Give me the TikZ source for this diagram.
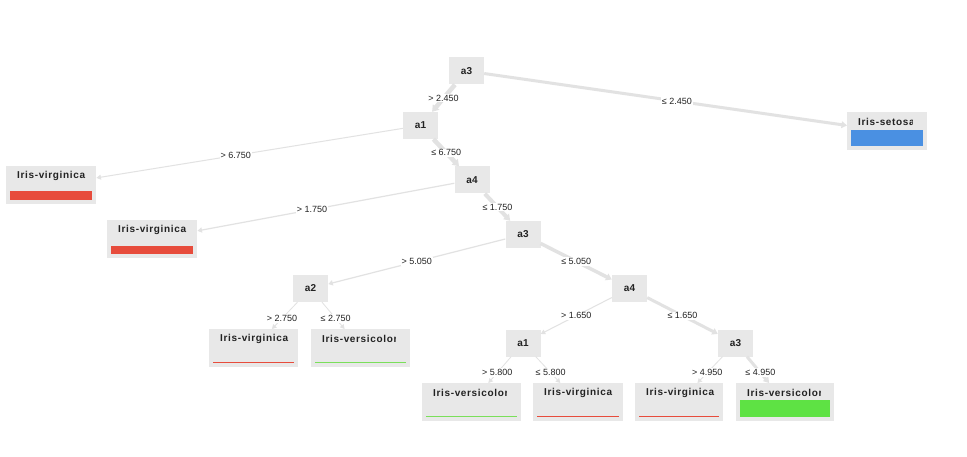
\documentclass[tikz,border=0pt]{standalone}
\usepackage{fontspec}
\setmainfont{Liberation Sans}
\newfontfamily\leaffont[LetterSpace=6.5]{Liberation Sans}
\usetikzlibrary{arrows.meta,calc}
\definecolor{boxgray}{HTML}{E8E8E8}
\definecolor{edgegray}{HTML}{E2E2E2}
\definecolor{vred}{HTML}{E74C3C}
\definecolor{sblue}{HTML}{4A90E2}
\definecolor{vgreen}{HTML}{5EE244}
\definecolor{lgreen}{HTML}{7ADF5A}
\definecolor{txt}{HTML}{222222}
\tikzset{
  inner/.style={rectangle, fill=boxgray, minimum width=35pt, minimum height=27pt, inner sep=0pt,
    font=\fontsize{10}{12}\selectfont\bfseries, text=txt},
  leafst/.style={rectangle, fill=boxgray, minimum height=38pt, inner sep=0pt, anchor=north west},
  leaftext/.style={anchor=west, inner sep=0pt, font=\leaffont\fontsize{10}{12}\selectfont\bfseries, text=txt},
  elabel/.style={fill=white, inner sep=1pt, font=\fontsize{9}{10}\selectfont, text=txt},
  conn/.style={draw=edgegray, line width=#1, -{Triangle[length=4pt 0.5, width=4pt 0.9]}},
}
% name, x, y, width, text, bar colour, bar height, visible text width
\newcommand{\leafnode}[8]{%
  \node[leafst, minimum width=#4pt] (#1) at (#2,#3) {};
  \begin{scope}
    \clip ([xshift=2pt]#1.north west) rectangle ([xshift=11pt+#8pt]#1.south west);
    \node[leaftext] (#1t) at ([xshift=11pt,yshift=-10pt]#1.north west) {#5};
  \end{scope}
  \fill[#6] ([xshift=4pt,yshift=4pt]#1.south west) rectangle ([xshift=-4pt,yshift=4pt+#7pt]#1.south east);
}
\begin{document}
\begin{tikzpicture}[x=1pt,y=-1pt]
\useasboundingbox[fill=white] (0,0) rectangle (967,457);
% internal nodes
\node[inner] (r)  at (466.5,71)   {a3};
\node[inner] (n1) at (420.5,125.5) {a1};
\node[inner] (n2) at (472,180)    {a4};
\node[inner] (n3) at (523,234.5)  {a3};
\node[inner] (n4) at (310.5,288.5) {a2};
\node[inner] (n5) at (629.5,288.5) {a4};
\node[inner] (n6) at (523,343)    {a1};
\node[inner] (n7) at (735.5,343)  {a3};
% leaves
\leafnode{l1}{847}{112}{80}{Iris-setosa}{sblue}{16}{54.5}
\leafnode{l2}{6}{166}{90}{Iris-virginica}{vred}{9}{78}
\leafnode{l3}{107}{220}{90}{Iris-virginica}{vred}{8}{78}
\leafnode{l4}{209}{329}{89}{Iris-virginica}{vred}{1.5}{77}
\leafnode{l5}{311}{329}{99}{Iris-versicolor}{lgreen}{1.5}{73.8}
\leafnode{l6}{422}{383}{99}{Iris-versicolor}{lgreen}{1.5}{73.8}
\leafnode{l7}{533}{383}{90}{Iris-virginica}{vred}{1.5}{78}
\leafnode{l8}{635}{383}{88}{Iris-virginica}{vred}{1.5}{76}
\leafnode{l9}{736}{383}{98}{Iris-versicolor}{vgreen}{17}{73.8}
% connectors
\draw[conn=4.5pt] (r) -- (n1);
\draw[conn=3pt] (r) -- (l1);
\draw[conn=1pt] (n1) -- (l2);
\draw[conn=4.5pt] (n1) -- (n2);
\draw[conn=1.2pt] (n2) -- (l3);
\draw[conn=4pt] (n2) -- (n3);
\draw[conn=1.2pt] (n3) -- (n4);
\draw[conn=3.5pt] (n3) -- (n5);
\draw[conn=0.8pt] (n4) -- (l4);
\draw[conn=0.8pt] (n4) -- (l5);
\draw[conn=1pt] (n5) -- (n6);
\draw[conn=3pt] (n5) -- (n7);
\draw[conn=0.8pt] (n6) -- (l6);
\draw[conn=0.8pt] (n6) -- (l7);
\draw[conn=0.8pt] (n7) -- (l8);
\draw[conn=3pt] (n7) -- (l9);
% labels
\node[elabel] (e1) at ($(r)!0.5!(n1)$) {> 2.450};
\node[elabel] (e2) at ($(r)!0.5!(l1)$) {≤ 2.450};
\node[elabel] (e3) at ($(n1)!0.5!(l2)$) {> 6.750};
\node[elabel] (e4) at ($(n1)!0.5!(n2)$) {≤ 6.750};
\node[elabel] (e5) at ($(n2)!0.5!(l3)$) {> 1.750};
\node[elabel] (e6) at ($(n2)!0.5!(n3)$) {≤ 1.750};
\node[elabel] (e7) at ($(n3)!0.5!(n4)$) {> 5.050};
\node[elabel] (e8) at ($(n3)!0.5!(n5)$) {≤ 5.050};
\node[elabel] (e9) at ($(n4)!0.5!(l4)$) {> 2.750};
\node[elabel] (e10) at ($(n4)!0.5!(l5)$) {≤ 2.750};
\node[elabel] (e11) at ($(n5)!0.5!(n6)$) {> 1.650};
\node[elabel] (e12) at ($(n5)!0.5!(n7)$) {≤ 1.650};
\node[elabel] (e13) at ($(n6)!0.5!(l6)$) {> 5.800};
\node[elabel] (e14) at ($(n6)!0.5!(l7)$) {≤ 5.800};
\node[elabel] (e15) at ($(n7)!0.5!(l8)$) {> 4.950};
\node[elabel] (e16) at ($(n7)!0.5!(l9)$) {≤ 4.950};
\end{tikzpicture}
\end{document}
